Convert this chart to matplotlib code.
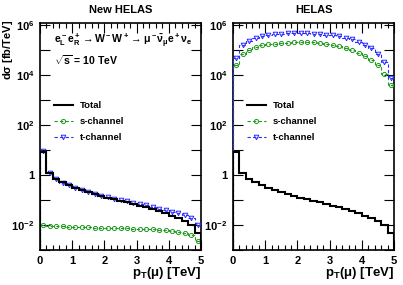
import numpy as np
import matplotlib
matplotlib.use("Agg")
import matplotlib.pyplot as plt
from matplotlib.ticker import FixedLocator, FuncFormatter, MultipleLocator

plt.rcParams['font.family'] = ['Liberation Sans', 'DejaVu Sans']
plt.rcParams['font.weight'] = 'bold'
plt.rcParams['mathtext.fontset'] = 'custom'
plt.rcParams['mathtext.rm'] = 'Liberation Sans:bold'
plt.rcParams['mathtext.bf'] = 'Liberation Sans:bold'
plt.rcParams['mathtext.it'] = 'Liberation Sans:bold'
plt.rcParams['mathtext.default'] = 'rm'

# bins in pT(mu) [TeV]
edges = np.arange(0, 5.0001, 0.2)

total = [8.5, 1.17, 0.68, 0.51, 0.40, 0.31, 0.25, 0.21, 0.17, 0.15, 0.12, 0.11,
         0.095, 0.083, 0.071, 0.059, 0.051, 0.043, 0.035, 0.030, 0.024, 0.019,
         0.015, 0.010, 0.005]

# New HELAS
s_new = [0.0100, 0.0095, 0.0091, 0.0089, 0.0087, 0.0085, 0.0083, 0.0081, 0.0079,
         0.0079, 0.0078, 0.0076, 0.0074, 0.0074, 0.0072, 0.0071, 0.0069, 0.0068,
         0.0065, 0.0062, 0.0059, 0.0054, 0.0048, 0.0040, 0.0024]
t_new = [8.9, 1.20, 0.70, 0.50, 0.40, 0.31, 0.25, 0.21, 0.17, 0.15, 0.13, 0.11,
         0.10, 0.091, 0.078, 0.069, 0.062, 0.052, 0.045, 0.039, 0.034, 0.030,
         0.026, 0.020, 0.010]

# HELAS
s_old = [2.5e4, 7.4e4, 1.07e5, 1.35e5, 1.6e5, 1.74e5, 1.86e5, 1.95e5, 2.04e5,
         2.09e5, 2.09e5, 2.09e5, 2.1e5, 2.04e5, 1.86e5, 1.7e5, 1.45e5, 1.23e5,
         1.0e5, 7.8e4, 5.9e4, 4.3e4, 2.5e4, 1.17e4, 4.0e3]
t_old = [5.1e4, 1.6e5, 2.3e5, 3.0e5, 3.6e5, 4.0e5, 4.4e5, 4.7e5, 4.8e5, 4.9e5,
         4.9e5, 4.9e5, 4.7e5, 4.4e5, 4.3e5, 4.0e5, 3.6e5, 3.2e5, 2.8e5, 2.2e5,
         1.7e5, 1.2e5, 7.4e4, 3.4e4, 8.1e3]

titles = ['New HELAS', 'HELAS']
panels = [(s_new, t_new), (s_old, t_old)]

W, H = 403, 285
fig = plt.figure(figsize=(W / 100, H / 100), dpi=100)

green = '#1f9a1f'
blue = '#2b2bff'
centers = 0.5 * (edges[:-1] + edges[1:])
dash = (0, (3, 2))

for i, (title, (s, t)) in enumerate(zip(titles, panels)):
    x0 = [40, 233][i]
    ax = fig.add_axes([x0 / W, 1 - 250 / H, 161 / W, 227 / H])
    ax.set_yscale('log')

    ax.stairs(total, edges, color='black', lw=1.5, zorder=4)
    ax.stairs(s, edges, color=green, lw=0.8, ls=dash, zorder=3)
    ax.plot(centers, s, 'o', mfc='none', mec=green, ms=3.0, mew=0.7, zorder=3)
    ax.stairs(t, edges, color=blue, lw=0.8, ls=dash, zorder=3)
    ax.plot(centers, t, 'v', mfc='none', mec=blue, ms=3.3, mew=0.7, zorder=3)

    # legend handles
    ax.plot([], [], color='black', lw=1.5, label='Total')
    ax.plot([], [], color=green, lw=0.8, ls=dash, marker='o', mfc='none',
            mec=green, ms=3.0, mew=0.7, label='s-channel')
    ax.plot([], [], color=blue, lw=0.8, ls=dash, marker='v', mfc='none',
            mec=blue, ms=3.3, mew=0.7, label='t-channel')
    ax.legend(loc='upper left', bbox_to_anchor=(0.085, 0.655), frameon=False,
              fontsize=6.8, handlelength=2.0, handletextpad=0.8,
              labelspacing=0.75, borderpad=0, borderaxespad=0)

    ax.set_xlim(0, 5)
    ax.set_ylim(1e-3, 1.25e6)

    ax.yaxis.set_major_locator(FixedLocator([10.0 ** k for k in range(-3, 7)]))
    ax.yaxis.set_minor_locator(FixedLocator([]))

    def fmt(v, pos):
        k = int(round(np.log10(v)))
        if k % 2:
            return ''
        if k == 0:
            return '1'
        return r'$10^{%d}$' % k
    ax.yaxis.set_major_formatter(FuncFormatter(fmt))
    ax.xaxis.set_major_locator(MultipleLocator(1))
    ax.xaxis.set_minor_locator(MultipleLocator(0.2))

    ax.tick_params(which='both', direction='in', top=True, right=True,
                   labelsize=8, width=0.8)
    ax.tick_params(which='major', length=7, pad=4)
    ax.tick_params(axis='x', which='minor', length=3.5)
    for sp in ax.spines.values():
        sp.set_linewidth(1.2)

    ax.set_title(title, fontsize=8, fontweight='bold', pad=7)

    fig.text((x0 + 161) / W, 1 - 273 / H, r'$p_T(\mu)$ [TeV]', ha='right',
             va='center', fontsize=9.5, fontweight='bold')

fig.text(8 / W, 1 - 20 / H, r'd$\sigma$ [fb/TeV]', rotation=90, ha='center',
         va='top', fontsize=8, fontweight='bold')

fig.text(54 / W, 1 - 40 / H,
         r'$e_L^-e_R^+\rightarrow W^-W^+\rightarrow\mu^-\bar{\nu}_\mu e^+\nu_e$',
         ha='left', va='center', fontsize=7.6)
fig.text(54 / W, 1 - 60 / H, r'$\sqrt{s}$ = 10 TeV', ha='left', va='center',
         fontsize=7.6, fontweight='bold')

fig.savefig('out.png', dpi=100)
